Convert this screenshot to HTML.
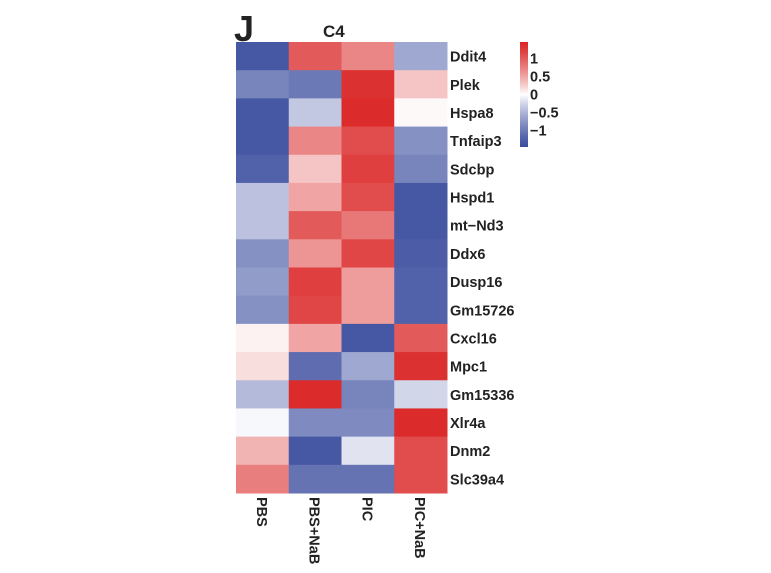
<!DOCTYPE html>
<html><head><meta charset="utf-8"><style>
body{margin:0;background:#fff;width:771px;height:568px;overflow:hidden}
svg text{font-family:"Liberation Sans",Arial,sans-serif;font-weight:bold;fill:#222}
</style></head><body>
<svg id="c" width="771" height="568"></svg>
<script>
const genes=["Ddit4","Plek","Hspa8","Tnfaip3","Sdcbp","Hspd1","mt\u2212Nd3","Ddx6","Dusp16","Gm15726","Cxcl16","Mpc1","Gm15336","Xlr4a","Dnm2","Slc39a4"];
const groups=["PBS","PBS+NaB","PIC","PIC+NaB"];
const values=[
[-1.3,1.0,0.7,-0.6],
[-0.9,-1.0,1.3,0.3],
[-1.3,-0.35,1.35,0.02],
[-1.3,0.7,1.1,-0.8],
[-1.2,0.3,1.2,-0.9],
[-0.4,0.5,1.1,-1.3],
[-0.4,1.0,0.8,-1.3],
[-0.8,0.6,1.15,-1.25],
[-0.7,1.2,0.55,-1.2],
[-0.8,1.15,0.55,-1.2],
[0.05,0.5,-1.3,1.0],
[0.15,-1.1,-0.6,1.3],
[-0.45,1.35,-0.9,-0.25],
[-0.03,-0.85,-0.85,1.35],
[0.4,-1.3,-0.15,1.1],
[0.75,-1.05,-1.05,1.1]];
const legendTicks=[1,0.5,0,-0.5,-1];
const legendLabels=["1","0.5","0","\u22120.5","\u22121"];

const NS="http://www.w3.org/2000/svg",svg=document.getElementById('c');
const X0=236,X1=447,Y0=42,Y1=493,VMAX=1.4;
const cw=(X1-X0)/groups.length,rh=(Y1-Y0)/genes.length;
const xc=i=>X0+i*cw, yr=j=>Y0+j*rh;
function color(v){
  let t=Math.max(-1,Math.min(1,v/VMAX));
  const w=[255,255,255],r=[218,36,36],b=[58,76,158];
  const e=t>=0?r:b,a=Math.pow(Math.abs(t),0.85);
  return `rgb(${w.map((c,k)=>Math.round(c+(e[k]-c)*a)).join(',')})`;
}
function mk(tag,attrs,txt){const el=document.createElementNS(NS,tag);for(const k in attrs)el.setAttribute(k,attrs[k]);if(txt!=null)el.textContent=txt;svg.appendChild(el);return el;}
let t=mk('text',{x:234,y:41,'font-size':36},"J");


t=mk('text',{x:323,y:37,'font-size':17},"C4");


values.forEach((row,j)=>row.forEach((v,i)=>{
  const r=mk('rect',{x:xc(i),y:yr(j),width:cw+0.5,height:rh+0.5,fill:color(v)});
  
  
}));
genes.forEach((g,j)=>{
  const e=mk('text',{x:450,y:yr(j)+rh/2+5.5,'font-size':14.5},g);
  
  
});
groups.forEach((g,i)=>{
  const cx=xc(i)+cw/2-5.5;
  const e=mk('text',{x:cx,y:497,'font-size':14.5,transform:`rotate(90 ${cx} 497)`},g);
  
  
});
const LY0=42,LY1=147,LX=520,LW=8;
const ly=v=>94-v*36;
const defs=mk('defs',{});
const grad=document.createElementNS(NS,'linearGradient');
grad.setAttribute('id','lg');grad.setAttribute('x1','0');grad.setAttribute('y1','0');grad.setAttribute('x2','0');grad.setAttribute('y2','1');
defs.appendChild(grad);
for(let k=0;k<=10;k++){const v=1.45-k*2.9/10;const s=document.createElementNS(NS,'stop');s.setAttribute('offset',k/10);s.setAttribute('stop-color',color(v));grad.appendChild(s);}
const lb=mk('rect',{x:LX,y:LY0,width:LW,height:LY1-LY0,fill:'url(#lg)'});


legendTicks.forEach((v,k)=>{
  const e=mk('text',{x:530,y:ly(v)+5.5,'font-size':14.5},legendLabels[k]);
  
  
});
</script>
</body></html>
